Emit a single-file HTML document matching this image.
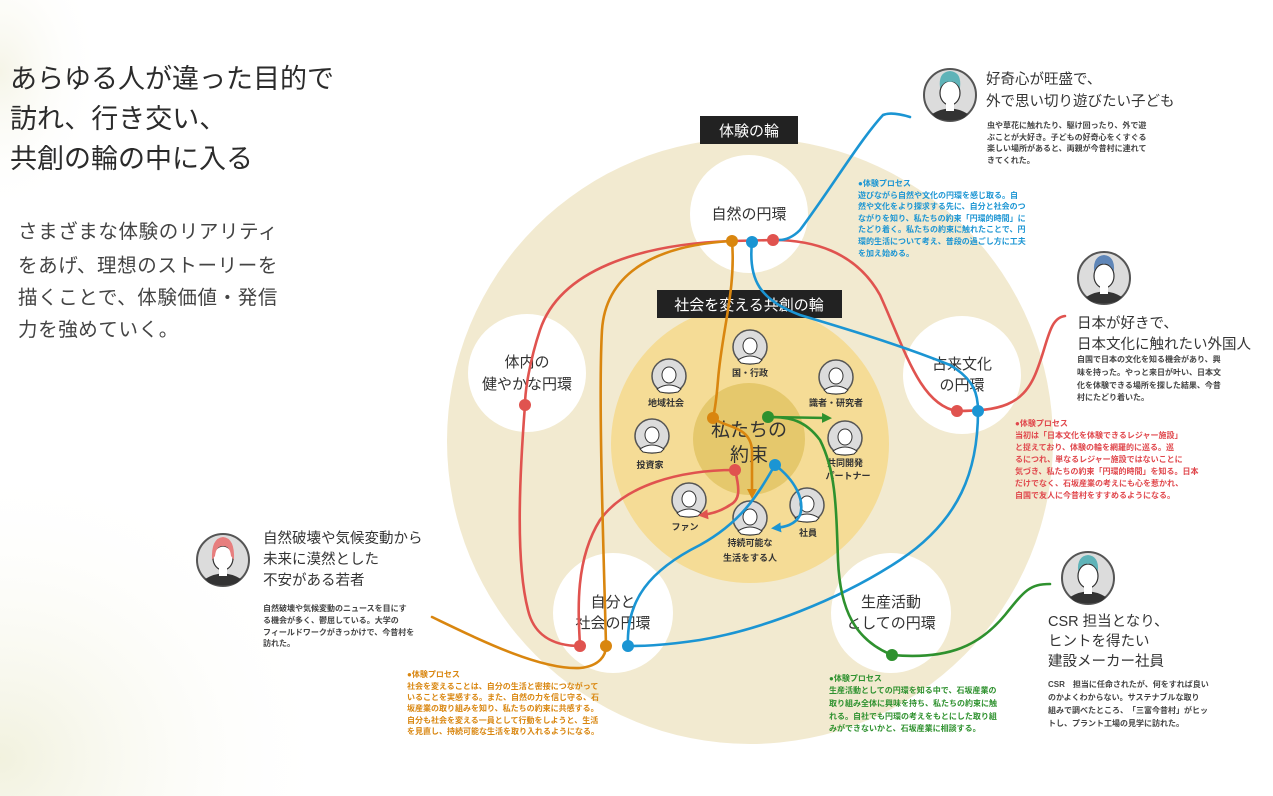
<!DOCTYPE html>
<html><head><meta charset="utf-8"><style>
html,body{margin:0;padding:0;background:#fff;}
svg{display:block;}
text{font-family:"Liberation Sans","Noto Sans CJK JP",sans-serif;}
</style></head><body>
<svg width="1273" height="796" viewBox="0 0 1273 796" xmlns="http://www.w3.org/2000/svg">
<defs>
<radialGradient id="bg" cx="0" cy="0.9" r="0.8">
<stop offset="0" stop-color="#eeeed6" stop-opacity="0.8"/>
<stop offset="0.5" stop-color="#f6f6ea" stop-opacity="0.4"/>
<stop offset="1" stop-color="#ffffff" stop-opacity="0"/>
</radialGradient>
<radialGradient id="bg2" cx="0" cy="0.2" r="0.4">
<stop offset="0" stop-color="#efeed8" stop-opacity="0.6"/>
<stop offset="1" stop-color="#ffffff" stop-opacity="0"/>
</radialGradient>
<marker id="aO" markerWidth="10" markerHeight="10" refX="6" refY="5" orient="auto" markerUnits="userSpaceOnUse"><path d="M0,0 L10,5 L0,10 z" fill="#d9860f"/></marker>
<marker id="aR" markerWidth="10" markerHeight="10" refX="6" refY="5" orient="auto" markerUnits="userSpaceOnUse"><path d="M0,0 L10,5 L0,10 z" fill="#e0534f"/></marker>
<marker id="aB" markerWidth="10" markerHeight="10" refX="6" refY="5" orient="auto" markerUnits="userSpaceOnUse"><path d="M0,0 L10,5 L0,10 z" fill="#1b95d3"/></marker>
<marker id="aG" markerWidth="10" markerHeight="10" refX="6" refY="5" orient="auto" markerUnits="userSpaceOnUse"><path d="M0,0 L10,5 L0,10 z" fill="#2e912e"/></marker>
<g id="av">
<circle r="26" fill="#dcdcdc" stroke="#555" stroke-width="2"/>
<path d="M-18,19 Q0,8 18,19 L14,23 Q0,28 -14,23 z" fill="#333"/>
<ellipse cx="0" cy="-2" rx="10" ry="12" fill="#fff" stroke="#333" stroke-width="1.2"/>
<rect x="-4" y="8" width="8" height="8" fill="#fff"/>
</g>
<g id="sav">
<circle r="17" fill="#dcdcdc" stroke="#555" stroke-width="1.5"/>
<path d="M-12,13 Q0,5 12,13 L9,16 Q0,18 -9,16 z" fill="#fff" stroke="#333" stroke-width="1"/>
<ellipse cx="0" cy="-1" rx="7" ry="8" fill="#fff" stroke="#333" stroke-width="1"/>
</g>
</defs>
<rect x="0" y="0" width="1273" height="796" fill="#fff"/>
<rect x="0" y="420" width="420" height="376" fill="url(#bg)"/>
<rect x="0" y="0" width="260" height="360" fill="url(#bg2)"/>

<g fill="#2b2b2b" font-size="27">
<text x="10" y="88">あらゆる人が違った目的で</text>
<text x="10" y="128">訪れ、行き交い、</text>
<text x="10" y="168">共創の輪の中に入る</text>
</g>
<g fill="#444" font-size="19.5" letter-spacing="0.6">
<text x="18" y="238">さまざまな体験のリアリティ</text>
<text x="18" y="272">をあげ、理想のストーリーを</text>
<text x="18" y="304">描くことで、体験価値・発信</text>
<text x="18" y="336">力を強めていく。</text>
</g>

<circle cx="750" cy="441" r="303" fill="#f2ead0"/>
<circle cx="750" cy="444" r="139" fill="#f5dc96"/>
<circle cx="749" cy="439" r="56" fill="#e5c86c"/>
<g fill="#fff">
<circle cx="749" cy="214" r="59"/>
<circle cx="527" cy="373" r="59"/>
<circle cx="962" cy="375" r="59"/>
<circle cx="613" cy="613" r="60"/>
<circle cx="891" cy="613" r="60"/>
</g>
<g fill="#333" font-size="15" text-anchor="middle">
<text x="749" y="219">自然の円環</text>
<text x="527" y="367">体内の</text><text x="527" y="389">健やかな円環</text>
<text x="962" y="369">古来文化</text><text x="962" y="390">の円環</text>
<text x="613" y="607">自分と</text><text x="613" y="628">社会の円環</text>
<text x="891" y="607">生産活動</text><text x="891" y="628">としての円環</text>
</g>
<rect x="700" y="116" width="98" height="28" fill="#222"/>
<text x="749" y="136" fill="#fff" font-size="15" text-anchor="middle">体験の輪</text>
<rect x="657" y="290" width="185" height="28" fill="#222"/>
<text x="749" y="310" fill="#fff" font-size="15" text-anchor="middle">社会を変える共創の輪</text>
<text x="749" y="436" fill="#333" font-size="19" text-anchor="middle">私たちの</text>
<text x="749" y="461" fill="#333" font-size="19" text-anchor="middle">約束</text>

<g font-size="9" fill="#333" text-anchor="middle" font-weight="bold">
<use href="#sav" x="750" y="347"/><text x="750" y="376">国・行政</text>
<use href="#sav" x="669" y="376"/><text x="666" y="406">地域社会</text>
<use href="#sav" x="836" y="377"/><text x="836" y="406">識者・研究者</text>
<use href="#sav" x="652" y="436"/><text x="650" y="468">投資家</text>
<use href="#sav" x="845" y="438"/><text x="845" y="466">共同開発</text><text x="848" y="479">パートナー</text>
<use href="#sav" x="689" y="500"/><text x="685" y="530">ファン</text>
<use href="#sav" x="750" y="518"/><text x="750" y="546">持続可能な</text><text x="750" y="561">生活をする人</text>
<use href="#sav" x="807" y="505"/><text x="808" y="536">社員</text>
</g>

<g fill="none" stroke-width="2.6" stroke-linecap="round">
<path stroke="#e0534f" d="M1065,316 C1048,318 1048,345 1035,375 C1022,405 1000,411 957,411 C920,405 905,350 880,295 C855,250 810,240 773,240 L732,241 C640,244 560,270 540,330 C530,360 525,390 525,405 C520,470 515,560 528,610 C535,640 560,646 580,646"/>
<path stroke="#e0534f" marker-end="url(#aR)" d="M580,646 C578,610 575,560 600,520 C625,485 680,470 735,470 C740,490 740,500 730,505 C720,512 710,514 702,515"/>
<path stroke="#d9860f" d="M432,617 C480,640 540,670 580,668 C600,666 606,655 606,646 C604,560 598,400 602,330 C606,270 660,245 732,241"/>
<path stroke="#d9860f" marker-end="url(#aO)" d="M732,241 C736,290 722,330 718,380 C716,405 713,418 713,418 C725,428 750,425 752,450 L752,495"/>
<path stroke="#1b95d3" d="M910,117 C900,114 890,112 883,115 C860,140 830,190 800,230 C792,238 784,240 779,240"/>
<path stroke="#1b95d3" d="M752,242 C748,280 760,300 800,315 C850,330 900,345 950,365 C975,380 978,395 978,411 C978,470 960,520 900,560 C840,600 760,630 700,640 C660,646 640,646 628,646"/>
<path stroke="#1b95d3" marker-end="url(#aB)" d="M628,646 C626,600 650,570 700,545 C745,520 760,490 775,465 C795,480 805,500 800,515 C795,525 785,527 775,528"/>
<path stroke="#2e912e" d="M1050,584 C1030,584 1025,590 1005,615 C980,645 950,660 892,655 C855,640 840,610 838,560 C836,500 835,470 820,440 C805,420 790,417 768,417"/>
<path stroke="#2e912e" marker-end="url(#aG)" d="M768,417 L828,418"/>
</g>
<g>
<circle cx="732" cy="241" r="6" fill="#d9860f"/>
<circle cx="752" cy="242" r="6" fill="#1b95d3"/>
<circle cx="773" cy="240" r="6" fill="#e0534f"/>
<circle cx="525" cy="405" r="6" fill="#e0534f"/>
<circle cx="957" cy="411" r="6" fill="#e0534f"/>
<circle cx="978" cy="411" r="6" fill="#1b95d3"/>
<circle cx="580" cy="646" r="6" fill="#e0534f"/>
<circle cx="606" cy="646" r="6" fill="#d9860f"/>
<circle cx="628" cy="646" r="6" fill="#1b95d3"/>
<circle cx="892" cy="655" r="6" fill="#2e912e"/>
<circle cx="713" cy="418" r="6" fill="#d9860f"/>
<circle cx="768" cy="417" r="6" fill="#2e912e"/>
<circle cx="735" cy="470" r="6" fill="#e0534f"/>
<circle cx="775" cy="465" r="6" fill="#1b95d3"/>
</g>

<use href="#av" x="950" y="95"/><path d="M940,88 Q938,72 950,71 Q962,72 960,88 Q955,80 950,82 Q945,80 940,88z" fill="#5fb3b8"/>
<use href="#av" x="1104" y="278"/><path d="M1094,271 Q1093,256 1104,255 Q1115,256 1114,271 Q1108,262 1104,264 Q1099,262 1094,271z" fill="#5f86b8"/>
<use href="#av" x="1088" y="578"/><path d="M1078,571 Q1077,556 1088,555 Q1099,556 1098,571 Q1092,562 1088,564 Q1083,562 1078,571z" fill="#5fb3b8"/>
<use href="#av" x="223" y="560"/><path d="M212,560 Q211,538 223,537 Q235,538 234,560 L231,556 Q230,546 223,546 Q216,546 215,556z" fill="#e77e7e"/>

<g fill="#333" font-size="14.5">
<text x="986" y="84">好奇心が旺盛で、</text>
<text x="986" y="106">外で思い切り遊びたい子ども</text>
<text x="1077" y="328">日本が好きで、</text>
<text x="1077" y="349">日本文化に触れたい外国人</text>
<text x="1048" y="626">CSR 担当となり、</text>
<text x="1048" y="646">ヒントを得たい</text>
<text x="1048" y="666">建設メーカー社員</text>
<text x="263" y="543">自然破壊や気候変動から</text>
<text x="263" y="564">未来に漠然とした</text>
<text x="263" y="585">不安がある若者</text>
</g>
<g fill="#444" font-size="8" font-weight="bold">
<text x="987" y="128">虫や草花に触れたり、駆け回ったり、外で遊</text>
<text x="987" y="140">ぶことが大好き。子どもの好奇心をくすぐる</text>
<text x="987" y="151">楽しい場所があると、両親が今昔村に連れて</text>
<text x="987" y="163">きてくれた。</text>
<text x="1077" y="362">自国で日本の文化を知る機会があり、興</text>
<text x="1077" y="375">味を持った。やっと来日が叶い、日本文</text>
<text x="1077" y="388">化を体験できる場所を探した結果、今昔</text>
<text x="1077" y="400">村にたどり着いた。</text>
<text x="1048" y="687">CSR　担当に任命されたが、何をすれば良い</text>
<text x="1048" y="700">のかよくわからない。サステナブルな取り</text>
<text x="1048" y="713">組みで調べたところ、「三富今昔村」がヒッ</text>
<text x="1048" y="726">トし、プラント工場の見学に訪れた。</text>
<text x="263" y="611">自然破壊や気候変動のニュースを目にす</text>
<text x="263" y="623">る機会が多く、鬱屈している。大学の</text>
<text x="263" y="635">フィールドワークがきっかけで、今昔村を</text>
<text x="263" y="646">訪れた。</text>
</g>
<g fill="#1b95d3" font-size="8" font-weight="bold">
<text x="858" y="186">●体験プロセス</text>
<text x="858" y="198">遊びながら自然や文化の円環を感じ取る。自</text>
<text x="858" y="209">然や文化をより探求する先に、自分と社会のつ</text>
<text x="858" y="221">ながりを知り、私たちの約束「円環的時間」に</text>
<text x="858" y="232">たどり着く。私たちの約束に触れたことで、円</text>
<text x="858" y="244">環的生活について考え、普段の過ごし方に工夫</text>
<text x="858" y="256">を加え始める。</text>
</g>
<g fill="#e0474c" font-size="8" font-weight="bold">
<text x="1015" y="426">●体験プロセス</text>
<text x="1015" y="438">当初は「日本文化を体験できるレジャー施設」</text>
<text x="1015" y="450">と捉えており、体験の輪を網羅的に巡る。巡</text>
<text x="1015" y="462">るにつれ、単なるレジャー施設ではないことに</text>
<text x="1015" y="474">気づき、私たちの約束「円環的時間」を知る。日本</text>
<text x="1015" y="486">だけでなく、石坂産業の考えにも心を惹かれ、</text>
<text x="1015" y="498">自国で友人に今昔村をすすめるようになる。</text>
</g>
<g fill="#2e912e" font-size="8" font-weight="bold">
<text x="829" y="681">●体験プロセス</text>
<text x="829" y="693">生産活動としての円環を知る中で、石坂産業の</text>
<text x="829" y="706">取り組み全体に興味を持ち、私たちの約束に触</text>
<text x="829" y="719">れる。自社でも円環の考えをもとにした取り組</text>
<text x="829" y="731">みができないかと、石坂産業に相談する。</text>
</g>
<g fill="#d9860f" font-size="8" font-weight="bold">
<text x="407" y="677">●体験プロセス</text>
<text x="407" y="689">社会を変えることは、自分の生活と密接につながって</text>
<text x="407" y="700">いることを実感する。また、自然の力を信じ守る、石</text>
<text x="407" y="711">坂産業の取り組みを知り、私たちの約束に共感する。</text>
<text x="407" y="723">自分も社会を変える一員として行動をしようと、生活</text>
<text x="407" y="734">を見直し、持続可能な生活を取り入れるようになる。</text>
</g>
</svg>
</body></html>
